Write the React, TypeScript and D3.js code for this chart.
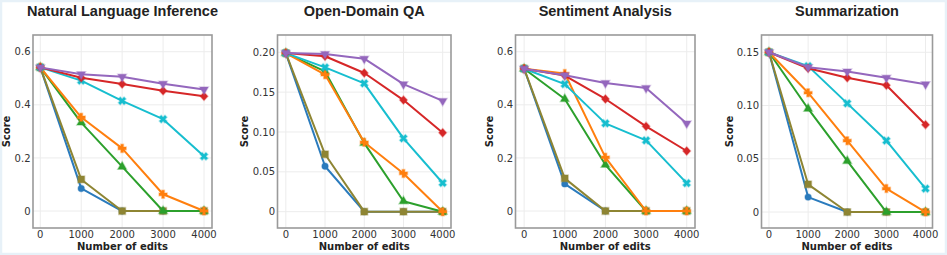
import React, { useRef, useEffect } from 'react';
import * as d3 from 'd3';

// x values shared by all panels
const edits = [0, 1000, 2000, 3000, 4000];
const xTicks = [0, 1000, 2000, 3000, 4000];

const panelTitles = ['Natural Language Inference', 'Open-Domain QA', 'Sentiment Analysis', 'Summarization'];

// series order = draw order (later on top)
const seriesNames = ['blue', 'olive', 'green', 'orange', 'cyan', 'red', 'purple'];
const seriesColors = ['#2a7bbd', '#8e8533', '#2ca02c', '#ff7f0e', '#17becf', '#d62728', '#9467bd'];
const seriesShapes = ['circle', 'square', 'triangle', 'plus', 'x', 'diamond', 'triangleDown'];

// Natural Language Inference
const nliBlue = [0.541, 0.085, 0, 0, 0];
const nliOlive = [0.541, 0.119, 0, 0, 0];
const nliGreen = [0.541, 0.333, 0.167, 0, 0];
const nliOrange = [0.541, 0.353, 0.236, 0.063, 0];
const nliCyan = [0.541, 0.491, 0.415, 0.346, 0.206];
const nliRed = [0.541, 0.502, 0.478, 0.453, 0.432];
const nliPurple = [0.541, 0.515, 0.506, 0.479, 0.458];

// Open-Domain QA
const qaBlue = [0.199, 0.057, 0, 0, 0];
const qaOlive = [0.199, 0.072, 0, 0, 0];
const qaGreen = [0.199, 0.176, 0.086, 0.013, 0];
const qaOrange = [0.199, 0.172, 0.087, 0.048, 0];
const qaCyan = [0.199, 0.181, 0.161, 0.092, 0.036];
const qaRed = [0.199, 0.195, 0.174, 0.140, 0.099];
const qaPurple = [0.199, 0.198, 0.192, 0.160, 0.139];

// Sentiment Analysis
const saBlue = [0.536, 0.102, 0, 0, 0];
const saOlive = [0.536, 0.123, 0, 0, 0];
const saGreen = [0.536, 0.422, 0.174, 0, 0];
const saOrange = [0.536, 0.518, 0.202, 0, 0];
const saCyan = [0.536, 0.478, 0.330, 0.266, 0.105];
const saRed = [0.536, 0.510, 0.422, 0.319, 0.226];
const saPurple = [0.536, 0.511, 0.482, 0.463, 0.330];

// Summarization
const sumBlue = [0.150, 0.014, 0, 0, 0];
const sumOlive = [0.150, 0.026, 0, 0, 0];
const sumGreen = [0.150, 0.097, 0.048, 0, 0];
const sumOrange = [0.150, 0.112, 0.067, 0.022, 0];
const sumCyan = [0.150, 0.137, 0.102, 0.067, 0.022];
const sumRed = [0.150, 0.135, 0.126, 0.119, 0.082];
const sumPurple = [0.150, 0.136, 0.132, 0.126, 0.120];

const yTicksA = [0, 0.2, 0.4, 0.6];
const yTicksQA = [0, 0.05, 0.10, 0.15, 0.20];
const yTicksSum = [0, 0.05, 0.10, 0.15];

const panelSeries = [
  [nliBlue, nliOlive, nliGreen, nliOrange, nliCyan, nliRed, nliPurple],
  [qaBlue, qaOlive, qaGreen, qaOrange, qaCyan, qaRed, qaPurple],
  [saBlue, saOlive, saGreen, saOrange, saCyan, saRed, saPurple],
  [sumBlue, sumOlive, sumGreen, sumOrange, sumCyan, sumRed, sumPurple],
];
const panelYTicks = [yTicksA, yTicksQA, yTicksA, yTicksSum];
const panelYDecimals = [1, 2, 1, 2];

// frame boxes and axis ranges per panel
const layouts = [
  { left: 33, right: 212, top: 35, bottom: 228, xDom: [-178, 4195], yDom: [-0.064, 0.663], labelGap: 23.4 },
  { left: 277.5, right: 451, top: 35, bottom: 228, xDom: [-212, 4212], yDom: [-0.0205, 0.2217], labelGap: 29.2 },
  { left: 515.5, right: 695, top: 35, bottom: 228, xDom: [-212, 4204], yDom: [-0.064, 0.663], labelGap: 22.9 },
  { left: 761.5, right: 932.5, top: 35, bottom: 228, xDom: [-191, 4178], yDom: [-0.015, 0.1662], labelGap: 28.9 },
];

const W = 947;
const H = 255;

const App: React.FC = () => {
  const svgRef = useRef<SVGSVGElement>(null);

  useEffect(() => {
    if (!svgRef.current) return;
    const root = d3.select(svgRef.current);
    root.selectAll('*').remove();
    root.attr('width', W).attr('height', H);

    root.append('rect').attr('width', W).attr('height', H).attr('fill', '#fff');
    root.append('rect')
      .attr('x', 1).attr('y', 1).attr('width', W - 2).attr('height', H - 2)
      .attr('fill', 'none').attr('stroke', '#e7f1f8').attr('stroke-width', 2.5);

    const shapePath = (shape: string) => {
      switch (shape) {
        case 'circle': return { d: d3.symbol(d3.symbolCircle, 32)()!, t: '' };
        case 'square': return { d: d3.symbol(d3.symbolSquare, 46)()!, t: '' };
        case 'triangle': return { d: d3.symbol(d3.symbolTriangle, 32)()!, t: '' };
        case 'triangleDown': return { d: d3.symbol(d3.symbolTriangle, 32)()!, t: ' rotate(180)' };
        case 'plus': return { d: d3.symbol(d3.symbolCross, 36)()!, t: '' };
        case 'x': return { d: d3.symbol(d3.symbolCross, 36)()!, t: ' rotate(45)' };
        default: return { d: d3.symbol(d3.symbolSquare, 35)()!, t: ' scale(0.92,1) rotate(45)' };
      }
    };

    layouts.forEach((lay, pi) => {
      const g = root.append('g');
      const x = d3.scaleLinear().domain(lay.xDom).range([lay.left, lay.right]);
      const y = d3.scaleLinear().domain(lay.yDom).range([lay.bottom, lay.top]);
      const cx = (lay.left + lay.right) / 2;

      // grid
      g.selectAll('.vgrid').data(xTicks).enter().append('line')
        .attr('x1', d => x(d)).attr('x2', d => x(d))
        .attr('y1', lay.top).attr('y2', lay.bottom)
        .attr('stroke', '#ececec').attr('stroke-width', 1);
      g.selectAll('.hgrid').data(panelYTicks[pi]).enter().append('line')
        .attr('x1', lay.left).attr('x2', lay.right)
        .attr('y1', d => y(d)).attr('y2', d => y(d))
        .attr('stroke', '#ececec').attr('stroke-width', 1);

      // series
      const line = d3.line<number>().x((_, i) => x(edits[i])).y(d => y(d));
      panelSeries[pi].forEach((vals, si) => {
        const color = seriesColors[si];
        g.append('path').datum(vals)
          .attr('d', line)
          .attr('fill', 'none')
          .attr('stroke', color)
          .attr('stroke-width', 2)
          .attr('stroke-linejoin', 'round');
        const sp = shapePath(seriesShapes[si]);
        g.selectAll(`.m${si}`).data(vals).enter().append('path')
          .attr('d', sp.d)
          .attr('transform', (d, i) => `translate(${x(edits[i])},${y(d)})${sp.t}`)
          .attr('fill', color)
          .attr('stroke', color)
          .attr('stroke-opacity', 0.35)
          .attr('stroke-width', 1.5);
      });

      // frame
      g.append('rect')
        .attr('x', lay.left).attr('y', lay.top)
        .attr('width', lay.right - lay.left).attr('height', lay.bottom - lay.top)
        .attr('fill', 'none').attr('stroke', '#9a9a9a').attr('stroke-width', 1.6);

      // tick labels
      g.selectAll('.xt').data(xTicks).enter().append('text')
        .attr('x', d => x(d)).attr('y', 238)
        .attr('text-anchor', 'middle')
        .attr('font-family', 'DejaVu Sans').attr('font-size', 10).attr('fill', '#333')
        .text(d => String(d));
      const fmt = (v: number) => (v === 0 ? '0' : v.toFixed(panelYDecimals[pi]));
      g.selectAll('.yt').data(panelYTicks[pi]).enter().append('text')
        .attr('x', lay.left - 2.5).attr('y', d => y(d)).attr('dy', '0.36em')
        .attr('text-anchor', 'end')
        .attr('font-family', 'DejaVu Sans').attr('font-size', 10).attr('fill', '#333')
        .text(d => fmt(d));

      // titles
      g.append('text')
        .attr('x', cx).attr('y', 16).attr('text-anchor', 'middle')
        .attr('font-family', 'Liberation Sans').attr('font-weight', 'bold')
        .attr('font-size', 14.5).attr('fill', '#222')
        .text(panelTitles[pi]);
      g.append('text')
        .attr('x', cx).attr('y', 250).attr('text-anchor', 'middle')
        .attr('font-family', 'DejaVu Sans').attr('font-weight', 'bold')
        .attr('font-size', 10).attr('fill', '#222')
        .text('Number of edits');
      const lx = lay.left - lay.labelGap;
      const ly = (lay.top + lay.bottom) / 2;
      g.append('text')
        .attr('transform', `translate(${lx},${ly}) rotate(-90)`)
        .attr('text-anchor', 'middle')
        .attr('font-family', 'DejaVu Sans').attr('font-weight', 'bold')
        .attr('font-size', 10).attr('fill', '#222')
        .text('Score');
    });
  }, []);

  return (
    <svg ref={svgRef} style={{ position: 'absolute', left: 0, top: 0, display: 'block' }}></svg>
  );
};

export default App;
